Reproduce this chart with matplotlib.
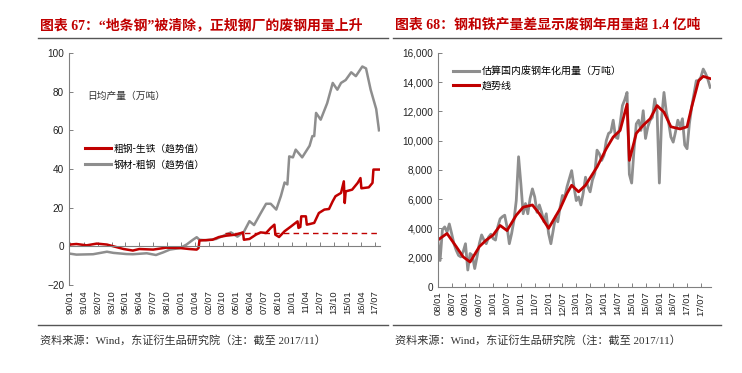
import matplotlib
matplotlib.use('Agg')
import matplotlib.pyplot as plt
from matplotlib.lines import Line2D

# ---- left chart: daily output gaps (万吨), trend values, 1990/01 - 2017/11
left_red_dates = ["1990/01", "1990/08", "1991/07", "1992/06", "1993/05", "1993/12", "1994/11",
                  "1995/09", "1996/04", "1997/07", "1998/09", "1999/12", "2000/10", "2001/06",
                  "2001/08", "2001/09", "2001/12", "2002/11", "2003/06", "2004/02", "2004/12",
                  "2005/08", "2005/09", "2006/03", "2006/10", "2007/03", "2007/09", "2008/02",
                  "2008/06", "2008/07", "2008/11", "2009/05", "2009/12", "2010/07", "2010/08",
                  "2010/10", "2010/11", "2011/04", "2011/05", "2011/08", "2012/01", "2012/06",
                  "2012/12", "2013/05", "2013/09", "2013/12", "2014/06", "2014/09", "2014/10",
                  "2014/11", "2015/06", "2015/12", "2016/03", "2016/04", "2016/12", "2017/04",
                  "2017/05", "2017/11"]
left_red_vals = [0.9, 1.2, 0.5, 1.4, 0.9, 0.0, -1.4,
                 -2.2, -1.4, -1.7, -0.7, -0.9, -1.4, -1.7,
                 -0.9, 3.0, 3.1, 3.4, 4.8, 5.5, 6.0,
                 7.2, 3.4, 3.8, 6.0, 7.2, 6.9, 9.5,
                 11.2, 6.0, 4.8, 7.8, 10.3, 12.9, 9.5,
                 10.0, 15.5, 15.5, 11.2, 11.5, 12.1, 17.2,
                 19.0, 19.3, 23.3, 25.9, 27.6, 33.6, 22.4,
                 28.4, 29.3, 32.8, 35.3, 30.0, 30.5, 32.8,
                 39.7, 39.7]

left_gray_dates = ["1990/01", "1990/08", "1992/02", "1993/05", "1993/12", "1995/02", "1995/09",
                   "1996/12", "1997/10", "1998/06", "1999/01", "1999/12", "2000/07", "2001/02",
                   "2001/06", "2001/09", "2002/04", "2003/03", "2004/07", "2005/02", "2005/09",
                   "2006/03", "2006/08", "2007/03", "2007/09", "2008/02", "2008/08", "2009/01",
                   "2009/05", "2009/08", "2009/10", "2010/02", "2010/05", "2010/12", "2011/08",
                   "2011/11", "2012/01", "2012/03", "2012/08", "2013/03", "2013/09", "2014/02",
                   "2014/06", "2014/11", "2015/05", "2015/10", "2016/05", "2016/09", "2017/02",
                   "2017/08", "2017/11"]
left_gray_vals = [-3.8, -4.3, -4.1, -2.8, -3.4, -4.0, -4.1,
                  -3.6, -4.5, -3.1, -1.7, -0.9, 0.9, 3.4,
                  4.7, 3.4, 3.1, 3.8, 7.2, 5.0, 7.5,
                  13.0, 11.0, 17.0, 22.0, 22.0, 19.0, 26.0,
                  33.0, 32.0, 46.5, 46.0, 50.0, 46.0, 52.0,
                  57.0, 57.0, 69.0, 65.5, 74.0, 84.5, 81.0,
                  84.5, 86.0, 90.0, 88.0, 93.0, 92.0, 81.0,
                  71.0, 60.0]

left_ref_level = 7.0
left_ref_span = ["2004/01", "2017/11"]

# ---- right chart: annualised scrap use (万吨), monthly 2008/01 - 2017/11
right_gray_vals = [3200, 1800, 3900, 4100, 3750, 4300, 3650, 2950, 2500, 2150,
                   2050, 2400, 2950, 1150, 2280, 2150, 1250, 2050, 2950, 3550,
                   3200, 2950, 3400, 3600, 3300, 3200, 4100, 4650, 4800, 4900,
                   4100, 2950, 3650, 4550, 5900, 8900, 7050, 5000, 5700, 5000,
                   6050, 6700, 6150, 5100, 5600, 5100, 4450, 5000, 3650, 2950,
                   3850, 4800, 4450, 5450, 6250, 6150, 6850, 7400, 7950, 6850,
                   5900, 6150, 5600, 6400, 7500, 6850, 6500, 7300, 7750, 9350,
                   9100, 8650, 9000, 10000, 10500, 10600, 11400, 10250, 10150, 11150,
                   12400, 12800, 13300, 7700, 7100, 9350, 11150, 11400, 10700, 12050,
                   10150, 10950, 11400, 11600, 12850, 12000, 7100, 11600, 13300, 11950,
                   11250, 10250, 9900, 10600, 11400, 10950, 11500, 9700, 9450, 11150,
                   12300, 13200, 14100, 14100, 14350, 14900, 14600, 14200, 13650]

right_red_dates = ["2008/01", "2008/05", "2008/09", "2008/12", "2009/03", "2009/07", "2009/10",
                   "2010/01", "2010/04", "2010/07", "2010/11", "2011/02", "2011/06", "2011/09",
                   "2012/01", "2012/06", "2012/09", "2012/11", "2013/02", "2013/05", "2013/10",
                   "2014/02", "2014/05", "2014/08", "2014/11", "2014/12", "2015/03", "2015/06",
                   "2015/09", "2015/12", "2016/03", "2016/06", "2016/10", "2017/01", "2017/03",
                   "2017/06", "2017/08", "2017/11"]
right_red_vals = [3200, 3650, 2750, 2050, 1700, 2750, 3200,
                  3550, 4200, 3850, 4900, 5450, 5600, 5000,
                  4000, 5350, 6400, 6950, 6500, 6950, 8200,
                  9450, 10250, 10700, 12500, 8650, 10500, 11050,
                  11500, 12400, 11950, 10950, 10800, 10950, 12300,
                  14100, 14400, 14250]

RED = "#C00000"
GRAY = "#8E8E8E"
CJK = ["Noto Sans CJK SC", "DejaVu Sans"]
SERIF_CJK = ["Liberation Serif", "Noto Sans CJK SC"]
plt.rcParams['font.family'] = ["Liberation Sans", "Noto Sans CJK SC"]


def months(dates, y0):
    """month index counted from January of y0"""
    return [(int(d[:4]) - y0) * 12 + int(d[5:]) - 1 for d in dates]


def style_axes(ax):
    for s in ["top", "right"]:
        ax.spines[s].set_visible(False)
    for s in ["left", "bottom"]:
        ax.spines[s].set_color("#808080")
        ax.spines[s].set_linewidth(0.8)
    ax.tick_params(direction="in", length=3, width=0.7, color="#808080",
                   labelsize=7.2, labelcolor="#222222")


fig = plt.figure(figsize=(7.42, 3.73), dpi=100)

# ---------------- left chart
ax1 = fig.add_axes([0.093, 0.236, 0.419, 0.622])
ax1.spines["bottom"].set_position(("data", 0))
style_axes(ax1)
ax1.plot(months(left_gray_dates, 1990), left_gray_vals, color=GRAY, lw=1.8)
ax1.plot(months(left_red_dates, 1990), left_red_vals, color=RED, lw=1.8)
ref_x = months(left_ref_span, 1990)
ax1.plot(ref_x, [left_ref_level, left_ref_level], color=RED, lw=1.0, ls=(0, (4, 3)))
ax1.set_ylim(-20, 100)
ax1.set_yticks(range(-20, 101, 20))
ax1.set_xlim(-1, 335)
lticks = list(range(0, 331, 15))
ax1.set_xticks(lticks)
ax1.set_xticklabels(["%02d/%02d" % ((90 + t // 12) % 100, t % 12 + 1) for t in lticks],
                    rotation=90, fontsize=6.8)
ax1.tick_params(axis="x", pad=31.5)
ax1.text(0.06, 0.815, "日均产量（万吨）", transform=ax1.transAxes, fontsize=7,
         family=CJK, color="#333333", va="center")
h1 = [Line2D([], [], color=RED, lw=2.2), Line2D([], [], color=GRAY, lw=2.2)]
ax1.legend(h1, ["粗钢-生铁（趋势值）", "钢材-粗钢（趋势值）"], loc="upper left",
           bbox_to_anchor=(0.04, 0.625), frameon=False, prop={"family": CJK, "size": 7},
           handlelength=2.6, handletextpad=0.3, labelspacing=0.55, borderaxespad=0)

# ---------------- right chart
ax2 = fig.add_axes([0.590, 0.231, 0.368, 0.627])
style_axes(ax2)
ax2.plot(range(len(right_gray_vals)), right_gray_vals, color=GRAY, lw=2.0)
ax2.plot(months(right_red_dates, 2008), right_red_vals, color=RED, lw=2.0)
ax2.set_ylim(0, 16000)
ax2.set_yticks(range(0, 16001, 2000))
ax2.set_yticklabels(["{:,}".format(v) for v in range(0, 16001, 2000)])
ax2.set_xlim(0, 118.3)
rticks = list(range(0, 115, 6))
ax2.set_xticks(rticks)
ax2.set_xticklabels(["%02d/%02d" % (8 + t // 12, t % 12 + 1) for t in rticks],
                    rotation=90, fontsize=6.8)
h2 = [Line2D([], [], color=GRAY, lw=2.2), Line2D([], [], color=RED, lw=2.2)]
ax2.legend(h2, ["估算国内废钢年化用量（万吨）", "趋势线"], loc="upper left",
           bbox_to_anchor=(0.04, 0.96), frameon=False, prop={"family": CJK, "size": 7.2},
           handlelength=2.6, handletextpad=0.3, labelspacing=0.45, borderaxespad=0)

# ---------------- titles, rules and sources
fig.text(40 / 742, 0.933, "图表 67：“地条钢”被清除，正规钢厂的废钢用量上升", color=RED,
         fontsize=10, weight="bold", family=SERIF_CJK, va="center")
fig.text(395 / 742, 0.933, "图表 68：钢和铁产量差显示废钢年用量超 1.4 亿吨", color=RED,
         fontsize=10, weight="bold", family=SERIF_CJK, va="center")
for y in [0.898, 0.129]:
    fig.add_artist(Line2D([38 / 742, 388 / 742], [y, y], color="#555555", lw=1.0))
    fig.add_artist(Line2D([393 / 742, 721 / 742], [y, y], color="#555555", lw=1.0))
for x in [40 / 742, 395 / 742]:
    fig.text(x, 0.088, "资料来源：Wind，东证衍生品研究院（注：截至 2017/11）", fontsize=8,
             family=SERIF_CJK, color="#333333", va="center")

plt.savefig("out.png", dpi=100)
plt.close()
